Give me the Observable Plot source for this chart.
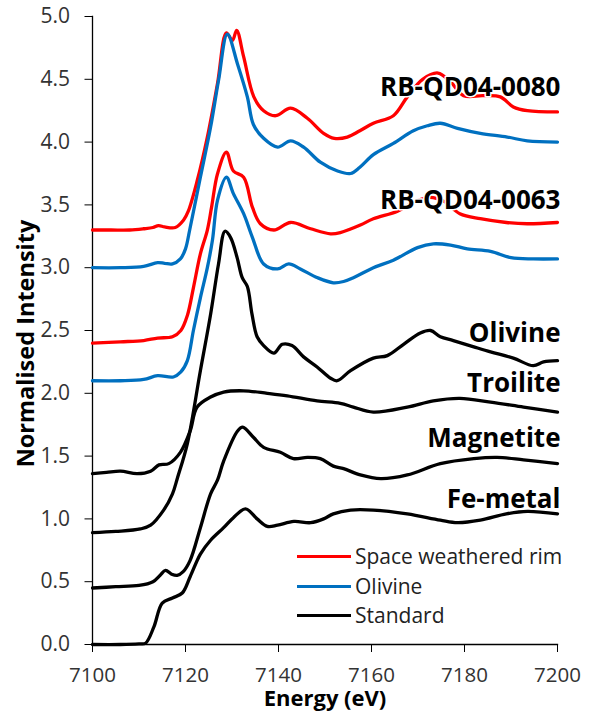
<!DOCTYPE html>
<html>
<head>
<meta charset="utf-8">
<script src="https://cdn.jsdelivr.net/npm/d3@7"></script>
<script src="https://cdn.jsdelivr.net/npm/@observablehq/plot@0.6"></script>
<style>
  html, body { margin: 0; padding: 0; background: #fff; }
  #wrap { position: relative; width: 590px; height: 712px; font-family: "Open Sans", sans-serif; }
  #legend { position: absolute; left: 297px; top: 542px; font-size: 21px; color: #222; line-height: 29.5px; }
  #legend .row { display: flex; align-items: center; height: 29.5px; }
  #legend .sw { width: 54px; height: 3px; margin-right: 4px; }
</style>
</head>
<body>
<div id="wrap"></div>
<script>
// ---- Data ----
const xTicks = [7100, 7120, 7140, 7160, 7180, 7200];
const yTicks = [0, 0.5, 1, 1.5, 2, 2.5, 3, 3.5, 4, 4.5, 5];
const xDomain = [7100, 7200];
const yDomain = [0, 5];

// RB-QD04-0080, space weathered rim
const rim0080 = [[7100,3.30],[7104,3.30],[7108,3.30],[7111,3.31],[7113,3.32],[7114.2,3.335],[7115.5,3.325],[7117.8,3.32],[7119.6,3.38],[7120.6,3.45],[7122.5,3.69],[7124.7,4.04],[7126.9,4.47],[7128.8,4.87],[7130.1,4.81],[7131,4.89],[7132.5,4.68],[7134.7,4.36],[7136.8,4.25],[7139.4,4.21],[7142.6,4.27],[7146.2,4.19],[7149.7,4.07],[7152,4.03],[7154.8,4.04],[7157.5,4.09],[7160.4,4.15],[7164.7,4.21],[7167.7,4.36],[7171,4.50],[7174.3,4.55],[7177,4.48],[7179.8,4.37],[7184,4.37],[7187.7,4.36],[7190.5,4.28],[7193.5,4.25],[7200,4.24]];
// RB-QD04-0080, olivine
const oliv0080 = [[7100,3.0],[7106,3.0],[7111,3.01],[7114,3.04],[7115.5,3.035],[7117.2,3.03],[7118.9,3.07],[7120,3.15],[7120.9,3.30],[7123.2,3.72],[7125.4,4.12],[7127.1,4.49],[7129,4.86],[7131.2,4.62],[7133.3,4.36],[7134.6,4.14],[7136.8,4.03],[7139.8,3.96],[7142.6,4.01],[7145.4,3.96],[7149,3.84],[7152.7,3.77],[7155.5,3.75],[7157.5,3.80],[7160.4,3.90],[7164.7,3.99],[7169,4.09],[7172,4.13],[7174.8,4.15],[7178.5,4.11],[7183.4,4.07],[7189.2,4.04],[7193.5,4.01],[7200,4.0]];
// RB-QD04-0063, space weathered rim
const rim0063 = [[7100,2.40],[7106,2.41],[7111,2.42],[7114,2.44],[7117.2,2.45],[7119,2.50],[7120.4,2.62],[7121.7,2.84],[7123.2,3.11],[7124.7,3.30],[7125.6,3.48],[7126.9,3.75],[7128.8,3.92],[7130.3,3.77],[7132.5,3.72],[7134.4,3.48],[7136.1,3.35],[7139,3.30],[7142.6,3.36],[7146.9,3.31],[7151.2,3.27],[7153.3,3.28],[7157.6,3.34],[7160.4,3.39],[7165.6,3.45],[7169,3.52],[7172.5,3.56],[7175.5,3.53],[7179,3.43],[7183.4,3.39],[7189,3.36],[7193.5,3.35],[7200,3.36]];
// RB-QD04-0063, olivine
const oliv0063 = [[7100,2.10],[7106,2.10],[7111,2.11],[7114,2.14],[7117.4,2.13],[7119,2.17],[7120.4,2.26],[7121.7,2.50],[7123.2,2.76],[7124.7,3.0],[7125.8,3.22],[7126.9,3.54],[7128.8,3.72],[7130.3,3.59],[7132.5,3.43],[7134.4,3.24],[7136.8,3.03],[7139.8,2.99],[7142.2,3.03],[7144.7,2.99],[7148.4,2.92],[7151.8,2.88],[7154,2.89],[7156.1,2.92],[7160.4,3.0],[7164.7,3.06],[7169.9,3.16],[7173.3,3.19],[7177,3.18],[7180.6,3.15],[7185.6,3.13],[7190,3.08],[7194.8,3.07],[7200,3.07]];
// Standards
const stdOlivine = [[7100,0.89],[7105,0.90],[7110.3,0.92],[7112.5,0.95],[7115.3,1.07],[7117.2,1.20],[7118.3,1.33],[7120.4,1.60],[7123.2,2.18],[7125.4,2.63],[7127.1,3.03],[7128.5,3.29],[7129.7,3.24],[7131.1,3.08],[7132.2,2.92],[7133.3,2.85],[7134.3,2.63],[7135.4,2.45],[7136.8,2.38],[7139,2.32],[7140.8,2.39],[7142.9,2.38],[7145.4,2.29],[7148.3,2.21],[7151.2,2.12],[7152.6,2.10],[7155.5,2.18],[7160.4,2.28],[7163.4,2.30],[7166.9,2.39],[7170.5,2.48],[7172.7,2.50],[7174.8,2.45],[7177.6,2.42],[7182,2.37],[7185.6,2.33],[7190.5,2.28],[7194.8,2.22],[7197,2.25],[7200,2.26]];
const stdTroilite = [[7100,1.36],[7103,1.37],[7106,1.38],[7109.6,1.36],[7112.5,1.38],[7114.3,1.43],[7116.4,1.44],[7118.9,1.53],[7121,1.70],[7122.5,1.89],[7125.4,1.97],[7128.2,2.01],[7132.5,2.02],[7137.6,2.00],[7141.9,1.98],[7148.3,1.94],[7153.3,1.92],[7156.1,1.89],[7160.4,1.85],[7167.7,1.89],[7173.3,1.94],[7179,1.96],[7185.6,1.93],[7192.7,1.89],[7200,1.85]];
const stdMagnetite = [[7100,0.45],[7105,0.46],[7110,0.47],[7113,0.50],[7114.5,0.55],[7115.7,0.59],[7117,0.56],[7118.2,0.55],[7119.5,0.58],[7121,0.67],[7123.2,0.93],[7125.4,1.20],[7126.9,1.31],[7128.2,1.46],[7131.2,1.70],[7132.3,1.73],[7134.6,1.65],[7136.8,1.57],[7140.4,1.53],[7143.2,1.48],[7146.2,1.49],[7149,1.48],[7151.8,1.42],[7154,1.40],[7157.6,1.35],[7162,1.32],[7167.7,1.35],[7174.8,1.44],[7182,1.48],[7187,1.49],[7192.7,1.47],[7200,1.44]];
const stdFeMetal = [[7100,0.0],[7106,0.0],[7110,0.005],[7111.4,0.01],[7113.2,0.14],[7115,0.33],[7117.2,0.37],[7119.3,0.41],[7121,0.54],[7123.2,0.72],[7125.4,0.83],[7128.2,0.93],[7130.3,1.01],[7132.9,1.08],[7135.4,1.00],[7137.6,0.94],[7139.8,0.95],[7143.3,0.98],[7146.9,0.97],[7149.7,1.00],[7151.8,1.04],[7155.5,1.07],[7160.4,1.07],[7167.7,1.04],[7174.8,0.99],[7178.5,0.97],[7183.4,0.99],[7189,1.04],[7193.5,1.06],[7200,1.04]];

// Curve labels and their vertical positions (intensity units)
const labelNames = ["RB-QD04-0080", "RB-QD04-0063", "Olivine", "Troilite", "Magnetite", "Fe-metal"];
const labelY = [4.43, 3.535, 2.476, 2.078, 1.64, 1.155];

// Legend
const legendNames = ["Space weathered rim", "Olivine", "Standard"];
const legendColors = ["#FF0000", "#0070C0", "#000000"];

// ---- Build ----
const toRows = (arr) => arr.map(([e, v]) => ({e, v}));
const lineOpts = (color) => ({x: "e", y: "v", stroke: color, strokeWidth: 3.3, curve: "catmull-rom", strokeLinejoin: "round", strokeLinecap: "round"});

const labels = labelNames.map((name, i) => ({name, x: xDomain[1], y: labelY[i]}));

const chart = Plot.plot({
  width: 590,
  height: 712,
  marginLeft: 92,
  marginRight: 33,
  marginTop: 16,
  marginBottom: 68,
  style: {fontFamily: "'Open Sans', sans-serif", background: "white", overflow: "visible"},
  x: {domain: xDomain},
  y: {domain: yDomain},
  marks: [
    Plot.axisY({ticks: yTicks, tickSize: 7.5, tickFormat: () => "", stroke: "#000", label: null}),
    Plot.axisX({ticks: xTicks, tickSize: 8, tickFormat: () => "", stroke: "#000", label: null}),
    Plot.text(yTicks, {y: (d) => d, frameAnchor: "left", dx: -22.5, textAnchor: "end", lineAnchor: "middle", text: (d) => d.toFixed(1), fontSize: 21, fill: "#333"}),
    Plot.text(xTicks, {x: (d) => d, frameAnchor: "bottom", dy: 31, lineAnchor: "middle", text: (d) => String(d), fontSize: 20.5, fill: "#333"}),
    Plot.frame({anchor: "left", stroke: "#000", strokeWidth: 1.3}),
    Plot.frame({anchor: "bottom", stroke: "#000", strokeWidth: 1.3}),
    Plot.line(toRows(stdFeMetal), lineOpts("#000")),
    Plot.line(toRows(stdMagnetite), lineOpts("#000")),
    Plot.line(toRows(stdTroilite), lineOpts("#000")),
    Plot.line(toRows(stdOlivine), lineOpts("#000")),
    Plot.line(toRows(rim0063), lineOpts("#FF0000")),
    Plot.line(toRows(oliv0063), lineOpts("#0070C0")),
    Plot.line(toRows(rim0080), lineOpts("#FF0000")),
    Plot.line(toRows(oliv0080), lineOpts("#0070C0")),
    Plot.text(labels, {x: "x", y: "y", text: "name", textAnchor: "end", lineAnchor: "middle", dx: 3, fontSize: 26, fontWeight: "bold", fill: "#000", stroke: "white", strokeWidth: 3}),
    Plot.text(["Energy (eV)"], {frameAnchor: "bottom", lineAnchor: "middle", dy: 54, fontSize: 22, fontWeight: "bold", fill: "#000"}),
    Plot.text(["Normalised Intensity"], {frameAnchor: "left", textAnchor: "middle", lineAnchor: "middle", rotate: -90, dx: -66, dy: 13, fontSize: 23.5, fontWeight: "bold", fill: "#000"})
  ]
});

const wrap = document.getElementById("wrap");
wrap.appendChild(chart);

const legend = document.createElement("div");
legend.id = "legend";
legendNames.forEach((name, i) => {
  const row = document.createElement("div");
  row.className = "row";
  const sw = document.createElement("span");
  sw.className = "sw";
  sw.style.background = legendColors[i];
  const tx = document.createElement("span");
  tx.textContent = name;
  row.appendChild(sw);
  row.appendChild(tx);
  legend.appendChild(row);
});
wrap.appendChild(legend);
</script>
</body>
</html>
